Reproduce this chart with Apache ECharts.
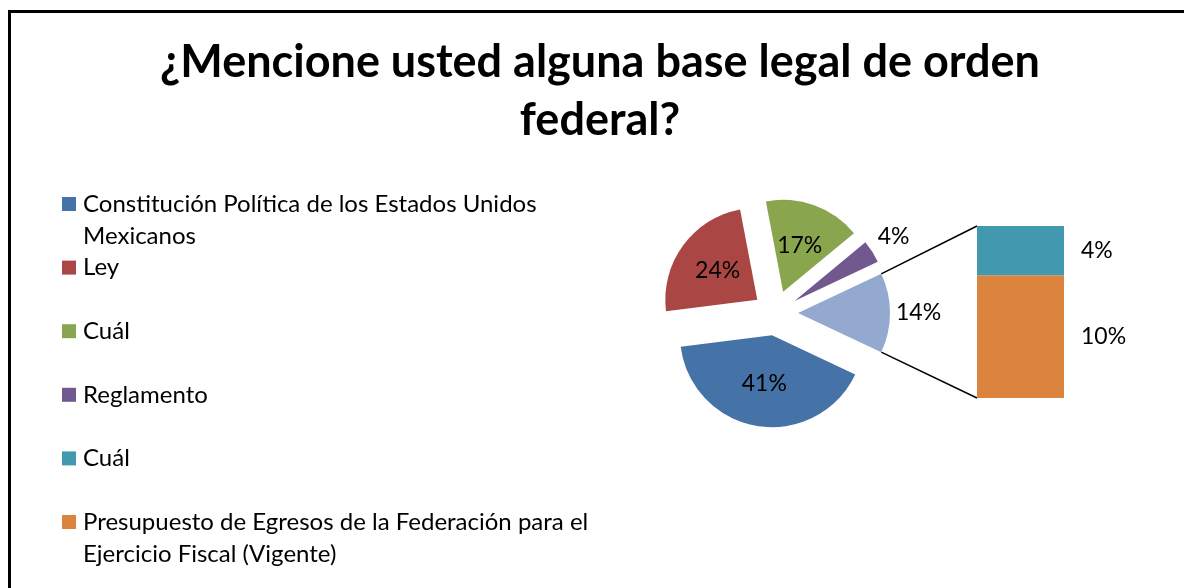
<!DOCTYPE html>
<html>
<head>
<meta charset="utf-8">
<script src="https://cdn.jsdelivr.net/npm/echarts@6/dist/echarts.min.js"></script>
<style>
  html, body { margin: 0; padding: 0; background: #ffffff; }
  #chart { width: 1184px; height: 588px; }
</style>
</head>
<body>
<div id="chart"></div>
<script>
// Title, one entry per line
const titleLines = ['¿Mencione usted alguna base legal de orden', 'federal?'];

// Legend entries (all six categories, wrapped as they appear)
const legendLabels = [
  'Constitución Política de los Estados Unidos\nMexicanos',
  'Ley',
  'Cuál',
  'Reglamento',
  'Cuál',
  'Presupuesto de Egresos de la Federación para el\nEjercicio Fiscal (Vigente)'
];

// Main pie slices (percent)
const pieNames = ['Constitución Política de los Estados Unidos Mexicanos', 'Ley', 'Cuál', 'Reglamento'];
const pieValues = [41, 24, 17, 4];

// Secondary stacked bar: breakdown of the combined slice (percent)
const barNames = ['Cuál', 'Presupuesto de Egresos de la Federación para el Ejercicio Fiscal (Vigente)'];
const barValues = [4, 10];
const otherName = 'Otros';

// Colours
const palette = ['#4572A7', '#AA4643', '#89A54E', '#71588F', '#4198AF', '#DB843D'];
const otherColor = '#93A9CF';

const FONT = 'Lato, "Noto Sans", sans-serif';
const LABEL_SIZE = 23;

// Layout of the pie and the bar
const PIE = { cx: 775.5, cy: 313, r: 92, explode: 22.5 };
const BAR = { left: 977, top: 226, width: 87, height: 172 };
const LEGEND = { x: 62, textX: 83, firstY: 204, step: 63.6, box: 14, lineHeight: 32, fontSize: 24 };

const otherValue = barValues.reduce((a, b) => a + b, 0);
const total = pieValues.reduce((a, b) => a + b, 0) + otherValue;
const halfAngle = otherValue / total * 180;   // combined slice is centred on 3 o'clock

const pieData = pieValues.map((v, i) => {
  const item = { name: pieNames[i], value: v, selected: true, itemStyle: { color: palette[i] } };
  if (i === 3) {
    item.label = { position: 'outside', distanceToLabelLine: 5 };
    item.labelLine = { show: false, length: 29, length2: -24 };
  }
  return item;
});
pieData.push({
  name: otherName, value: otherValue, selected: true,
  itemStyle: { color: otherColor },
  label: { position: 'outside', distanceToLabelLine: 5 },
  labelLine: { show: false, length: 1, length2: 0 }
});

// Connector lines from the combined slice to the bar
const rad = halfAngle * Math.PI / 180;
const sliceX = PIE.cx + PIE.explode + PIE.r * Math.cos(rad);
const sliceDy = PIE.r * Math.sin(rad);

const graphics = [
  {
    type: 'rect', silent: true,
    shape: { x: 9.5, y: 11.5, width: 1400, height: 800 },
    style: { fill: 'none', stroke: '#000', lineWidth: 3 }
  },
  {
    type: 'text', silent: true, x: 600, y: 62,
    style: { text: titleLines[0], font: 'bold 45px ' + FONT, fill: '#000', align: 'center', verticalAlign: 'middle' }
  },
  {
    type: 'text', silent: true, x: 600, y: 120,
    style: { text: titleLines[1], font: 'bold 45px ' + FONT, fill: '#000', align: 'center', verticalAlign: 'middle' }
  },
  {
    type: 'line', silent: true,
    shape: { x1: sliceX, y1: PIE.cy - sliceDy, x2: BAR.left, y2: BAR.top },
    style: { stroke: '#000', lineWidth: 1.5 }
  },
  {
    type: 'line', silent: true,
    shape: { x1: sliceX, y1: PIE.cy + sliceDy, x2: BAR.left, y2: BAR.top + BAR.height },
    style: { stroke: '#000', lineWidth: 1.5 }
  }
];

legendLabels.forEach((label, i) => {
  const yc = LEGEND.firstY + i * LEGEND.step;
  graphics.push({
    type: 'rect', silent: true,
    shape: { x: LEGEND.x, y: yc - LEGEND.box / 2, width: LEGEND.box, height: LEGEND.box },
    style: { fill: palette[i] }
  });
  graphics.push({
    type: 'text', silent: true, x: LEGEND.textX, y: yc - LEGEND.lineHeight / 2,
    style: { text: label, font: LEGEND.fontSize + 'px ' + FONT, fill: '#000', lineHeight: LEGEND.lineHeight, verticalAlign: 'top' }
  });
});

const chart = echarts.init(document.getElementById('chart'), null, { renderer: 'canvas' });
chart.setOption({
  animation: false,
  backgroundColor: '#ffffff',
  textStyle: { fontFamily: FONT },
  grid: { left: BAR.left, top: BAR.top, width: BAR.width, height: BAR.height, containLabel: false },
  xAxis: { type: 'category', data: ['bar'], show: false },
  yAxis: { type: 'value', min: 0, max: otherValue, show: false },
  series: [
    {
      type: 'pie',
      center: [PIE.cx, PIE.cy],
      radius: PIE.r,
      startAngle: 360 - halfAngle,
      clockwise: true,
      selectedMode: 'multiple',
      selectedOffset: PIE.explode,
      avoidLabelOverlap: false,
      emphasis: { disabled: true },
      label: { position: 'inside', formatter: '{c}%', fontSize: LABEL_SIZE, color: '#000', fontFamily: FONT },
      labelLine: { show: false },
      data: pieData
    },
    {
      type: 'bar', stack: 'otros', name: barNames[1], data: [barValues[1]],
      barWidth: '100%', itemStyle: { color: palette[5] },
      label: { show: true, position: 'right', distance: 17, formatter: '{c}%', fontSize: LABEL_SIZE, color: '#000', fontFamily: FONT },
      emphasis: { disabled: true }
    },
    {
      type: 'bar', stack: 'otros', name: barNames[0], data: [barValues[0]],
      barWidth: '100%', itemStyle: { color: palette[4] },
      label: { show: true, position: 'right', distance: 17, formatter: '{c}%', fontSize: LABEL_SIZE, color: '#000', fontFamily: FONT },
      emphasis: { disabled: true }
    }
  ],
  graphic: graphics
});
</script>
</body>
</html>
